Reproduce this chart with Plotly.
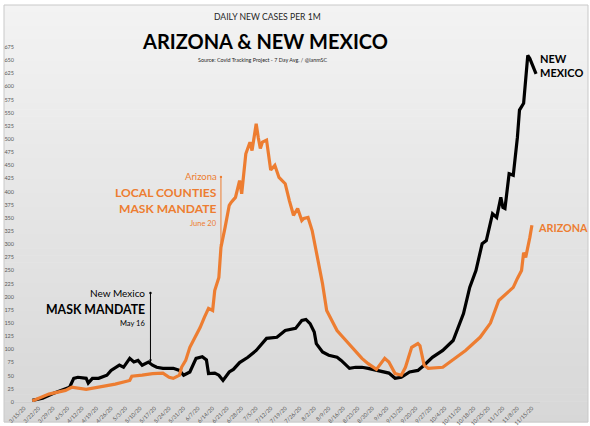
import plotly.graph_objects as go

# ---------------- data ----------------
az_dates = ["2020-03-19","2020-03-27","2020-04-04","2020-04-07","2020-04-14","2020-04-20","2020-04-28",
            "2020-05-05","2020-05-06","2020-05-11","2020-05-16","2020-05-21","2020-05-24","2020-05-26",
            "2020-05-29","2020-05-30","2020-06-01","2020-06-03","2020-06-08","2020-06-10","2020-06-12",
            "2020-06-14","2020-06-15","2020-06-17","2020-06-18","2020-06-20","2020-06-22","2020-06-23",
            "2020-06-25","2020-06-27","2020-06-28","2020-06-30","2020-07-02","2020-07-03","2020-07-05",
            "2020-07-06","2020-07-07","2020-07-08","2020-07-10","2020-07-12","2020-07-14","2020-07-16",
            "2020-07-19","2020-07-21","2020-07-23","2020-07-25","2020-07-27","2020-07-28","2020-07-30",
            "2020-08-01","2020-08-04","2020-08-06","2020-08-08","2020-08-10","2020-08-13","2020-08-15",
            "2020-08-20","2020-08-25","2020-08-28","2020-09-01","2020-09-05","2020-09-07","2020-09-10",
            "2020-09-13","2020-09-15","2020-09-18","2020-09-21","2020-09-22","2020-09-24","2020-09-26",
            "2020-10-03","2020-10-09","2020-10-14","2020-10-21","2020-10-26","2020-10-30","2020-11-06",
            "2020-11-08","2020-11-10","2020-11-11","2020-11-12","2020-11-14","2020-11-15"]
az_values = [2,15,22,28,24,28,34,
             41,49,51,54,55,47,45,
             51,66,79,104,142,161,178,
             174,212,237,294,332,374,380,
             389,421,396,472,494,478,529,
             503,482,494,498,441,450,427,
             415,383,355,368,345,349,351,
             326,269,225,174,159,136,127,
             104,83,73,62,83,76,54,
             51,66,104,111,107,70,64,
             66,83,98,123,150,193,218,
             235,250,284,275,313,336]

nm_dates = ["2020-03-19","2020-03-24","2020-03-29","2020-04-02","2020-04-06","2020-04-08","2020-04-10",
            "2020-04-14","2020-04-15","2020-04-17","2020-04-20","2020-04-24","2020-04-26","2020-04-30",
            "2020-05-02","2020-05-05","2020-05-07","2020-05-09","2020-05-11","2020-05-14","2020-05-16",
            "2020-05-18","2020-05-21","2020-05-26","2020-05-29","2020-05-31","2020-06-03","2020-06-06",
            "2020-06-09","2020-06-11","2020-06-12","2020-06-15","2020-06-17","2020-06-19","2020-06-22",
            "2020-06-24","2020-06-27","2020-07-01","2020-07-05","2020-07-10","2020-07-15","2020-07-19",
            "2020-07-24","2020-07-27","2020-07-29","2020-07-31","2020-08-02","2020-08-03","2020-08-06",
            "2020-08-09","2020-08-13","2020-08-15","2020-08-19","2020-08-22","2020-08-25","2020-08-28",
            "2020-09-02","2020-09-07","2020-09-10","2020-09-13","2020-09-17","2020-09-21","2020-09-24",
            "2020-09-28","2020-10-03","2020-10-08","2020-10-13","2020-10-16","2020-10-19","2020-10-22",
            "2020-10-24","2020-10-26","2020-10-27","2020-10-29","2020-10-31","2020-11-01","2020-11-02",
            "2020-11-04","2020-11-06","2020-11-08","2020-11-09","2020-11-11","2020-11-12","2020-11-13",
            "2020-11-14","2020-11-16","2020-11-17"]
nm_values = [3,7,16,22,28,45,47,
             45,36,45,45,51,60,70,
             66,83,76,79,70,76,70,
             66,64,64,60,51,57,83,
             86,80,54,55,51,41,57,
             62,75,85,98,121,123,136,
             140,155,157,149,133,111,95,
             89,85,79,64,66,66,64,
             60,55,45,47,57,60,70,
             85,98,117,168,218,250,301,
             307,345,358,351,389,370,368,
             434,431,503,555,568,612,659,
             653,636,624]

y_ticks = list(range(0, 676, 25))

title_top = "DAILY NEW CASES PER 1M"
title_main = "ARIZONA & NEW MEXICO"
source_txt = "Source: Covid Tracking Project - 7 Day Avg. / @ianmSC"

ORANGE = "#ED7D31"
FONT = "Lato"

# ---------------- layout geometry ----------------
W_FIG, H_FIG = 590, 426
L, R, T, B = 15, 50, 47, 24
PW = W_FIG - L - R
PH = H_FIG - T - B

def px2x(px):
    return (px - L) / PW

def py2y(py):
    return (H_FIG - B - py) / PH

fig = go.Figure()
fig.add_trace(go.Scatter(x=nm_dates, y=nm_values, mode="lines",
                         line=dict(color="#000000", width=3.2), name="New Mexico",
                         hoverinfo="skip"))
fig.add_trace(go.Scatter(x=az_dates, y=az_values, mode="lines",
                         line=dict(color=ORANGE, width=3.2), name="Arizona",
                         hoverinfo="skip"))

# background gradient bands + frame
shapes = []
n_bands = 60
top_px, bot_px = 5, 422
c_top, c_bot = 243, 215
for i in range(n_bands):
    y0p = top_px + (bot_px - top_px) * i / n_bands
    y1p = top_px + (bot_px - top_px) * (i + 1) / n_bands + 0.6
    c = round(c_top + (c_bot - c_top) * (i + 0.5) / n_bands)
    shapes.append(dict(type="rect", xref="paper", yref="paper", layer="below",
                       x0=px2x(4), x1=px2x(588), y0=py2y(y1p), y1=py2y(y0p),
                       fillcolor=f"rgb({c},{c},{c})", line=dict(width=0)))
shapes.append(dict(type="rect", xref="paper", yref="paper", layer="below",
                   x0=px2x(4), x1=px2x(588), y0=py2y(bot_px), y1=py2y(top_px),
                   fillcolor="rgba(0,0,0,0)", line=dict(color="#c9c9c9", width=1)))

def txt(text, px, py, size, color, xanchor="center", align="center"):
    return dict(text=text, x=px2x(px), y=py2y(py), xref="paper", yref="paper",
                xanchor=xanchor, yanchor="middle", align=align, showarrow=False,
                font=dict(family=FONT, size=size, color=color))

annotations = [
    txt(title_top, 267, 17, 8.6, "#262626"),
    txt("<b>" + title_main + "</b>", 265, 41, 20, "#000000"),
    txt(source_txt, 262, 60, 5.4, "#262626"),
    txt("<b>NEW<br>MEXICO</b>", 538, 65, 11, "#000000", xanchor="left", align="left"),
    txt("<b>ARIZONA</b>", 536, 227, 10.8, ORANGE, xanchor="left"),
    # Arizona mandate
    txt("Arizona", 219, 176, 9.5, ORANGE, xanchor="right"),
    txt("<b>LOCAL COUNTIES</b>", 219, 192, 12.1, ORANGE, xanchor="right"),
    txt("<b>MASK MANDATE</b>", 219, 209, 12.1, ORANGE, xanchor="right"),
    txt("June 20", 219, 223, 7.5, ORANGE, xanchor="right"),
    dict(text="", x="2020-06-18", y=294, xref="x", yref="y", ax=0, ay=-72,
         showarrow=True, arrowside="end+start", arrowhead=2, startarrowhead=6,
         arrowsize=0.6, startarrowsize=0.6, arrowwidth=1, arrowcolor=ORANGE),
    # New Mexico mandate
    txt("New Mexico", 147, 293, 10, "#000000", xanchor="right"),
    txt("<b>MASK MANDATE</b>", 147, 309, 12.3, "#000000", xanchor="right"),
    txt("May 16", 147, 323, 7.5, "#000000", xanchor="right"),
    dict(text="", x="2020-05-15", y=75, xref="x", yref="y", ax=0, ay=-71,
         showarrow=True, arrowside="end+start", arrowhead=2, startarrowhead=6,
         arrowsize=0.6, startarrowsize=0.6, arrowwidth=1, arrowcolor="#000000"),
]

fig.update_layout(
    width=W_FIG, height=H_FIG,
    margin=dict(l=L, r=R, t=T, b=B, pad=0, autoexpand=False),
    paper_bgcolor="#ffffff", plot_bgcolor="rgba(0,0,0,0)",
    showlegend=False,
    shapes=shapes, annotations=annotations,
    font=dict(family=FONT),
    xaxis=dict(type="date", range=["2020-03-10 15:50", "2020-11-18 21:36"],
               tick0="2020-03-15", dtick=7 * 86400000, tickformat="%-m/%-d/%y",
               tickangle=-45, tickfont=dict(family=FONT, size=5.5, color="#595959"),
               showgrid=False, zeroline=False, showline=True, linecolor="#cfcfcf",
               linewidth=1, ticks="", automargin=False),
    yaxis=dict(range=[0, 675], tickvals=y_ticks, ticktext=[str(v) for v in y_ticks],
               tickfont=dict(family=FONT, size=5.5, color="#595959"),
               showgrid=False, zeroline=False, showline=False, ticks="", automargin=False),
)

fig.write_html("out.html", config={"displayModeBar": False},
               post_script="document.body.style.margin='0';document.body.style.padding='0';")
